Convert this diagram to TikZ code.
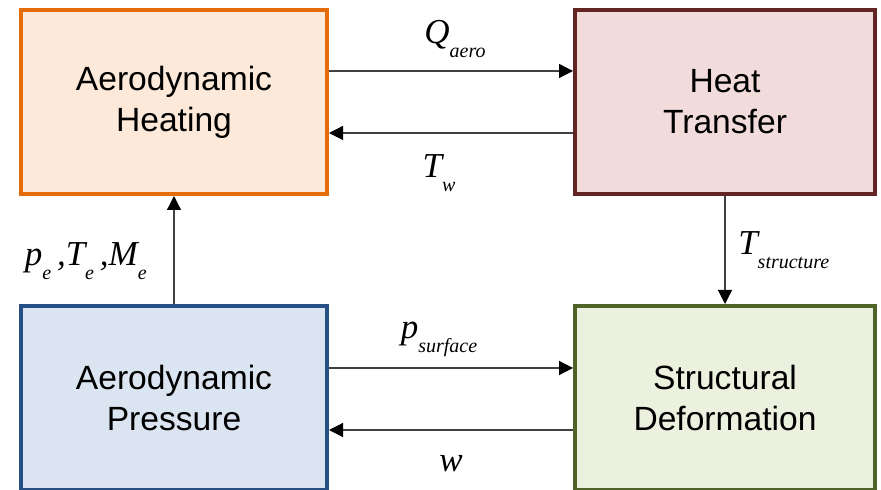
\documentclass[tikz,border=0pt]{standalone}
\usepackage{fontspec}
\setmainfont{Liberation Sans}
\newfontfamily\lblfont{Liberation Serif}
\usetikzlibrary{positioning, arrows.meta}
\definecolor{heatdraw}{HTML}{E46C0A}
\definecolor{heatfill}{HTML}{FDE9D9}
\definecolor{transdraw}{HTML}{632523}
\definecolor{transfill}{HTML}{F2DCDB}
\definecolor{pressdraw}{HTML}{254F85}
\definecolor{pressfill}{HTML}{DBE5F1}
\definecolor{deformdraw}{HTML}{4F6228}
\definecolor{deformfill}{HTML}{EBF1DE}
% italic symbol with a small lowered index
\newcommand{\sym}[2]{#1\raisebox{-0.4em}{\fontsize{10}{10}\selectfont #2}}
\tikzset{block/.style={rectangle, draw, line width=2pt, align=center, text centered,
 minimum width=153pt, minimum height=92pt, font=\fontsize{16.8}{20.5}\selectfont}}
\tikzset{line/.style={draw=black!75, line width=0.6pt, -{Triangle[length=7pt, width=7pt, black]}}}
\tikzset{lbl/.style={text=black, font=\lblfont\itshape\fontsize{17.5}{20}\selectfont}}

\begin{document}
\begin{tikzpicture}[x=0.5pt, y=-0.5pt]
        \useasboundingbox (0,0) rectangle (881,490);
        \node[block, draw=heatdraw, fill=heatfill] at (174,102)   (heat){Aerodynamic\\Heating};
        \node[block, draw=transdraw, fill=transfill, minimum width=150pt, right=122pt of heat]   (transfer){Heat\\Transfer};
        \node[block, draw=pressdraw, fill=pressfill, below=54pt of heat]   (pressure){Aerodynamic\\Pressure};
        \node[block, draw=deformdraw, fill=deformfill, minimum width=150pt, below=54pt of transfer]   (deform){Structural\\Deformation};
        \path[line] ([yshift=15.5pt]heat.east) -- node[lbl, above=3pt, xshift=2pt]{\sym{Q}{aero}} ([yshift=15.5pt]transfer.west);
        \path[line] ([yshift=-15.5pt]transfer.west) -- node[lbl, below=7pt, xshift=-6pt]{\sym{T}{w}} ([yshift=-15.5pt]heat.east);
        \path[line] ([yshift=15pt]pressure.east) -- node[lbl, above=2pt, xshift=-6pt]{\sym{p}{surface}} ([yshift=15pt]deform.west);
        \path[line] ([yshift=-16pt]deform.west) -- node[lbl, below=9pt]{w} ([yshift=-16pt]pressure.east);
        \path[line] (pressure) -- node[lbl, pos=0.4, left=10pt]{\sym{p}{e}\,,\sym{T}{e}\,,\sym{M}{e}} (heat);
        \path[line] (transfer) -- node[lbl, right=3pt]{\sym{T}{structure}} (deform);
\end{tikzpicture}
\end{document}
